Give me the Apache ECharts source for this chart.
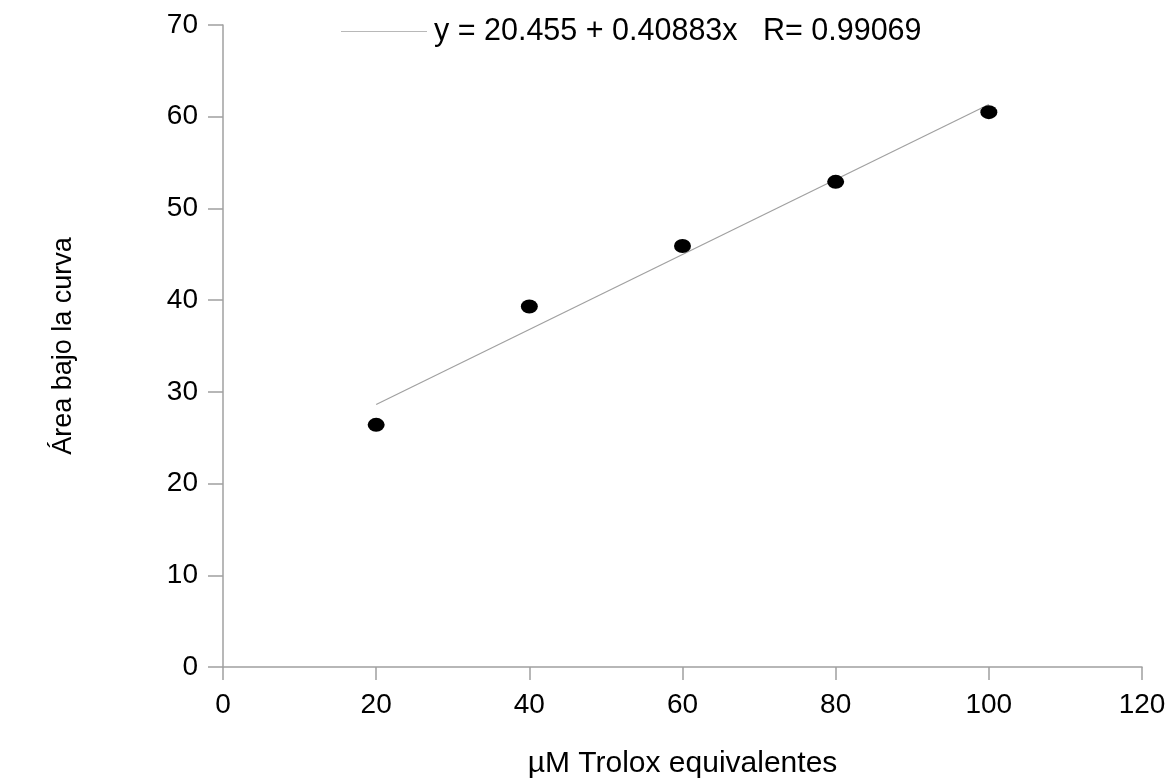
<!DOCTYPE html>
<html>
<head>
<meta charset="utf-8">
<script src="https://cdn.jsdelivr.net/npm/echarts@6/dist/echarts.min.js"></script>
<style>html,body{margin:0;padding:0;background:#fff}#c{width:1173px;height:783px}</style>
</head>
<body>
<div id="c"></div>
<script>
// Measured points
var xValues = [20, 40, 60, 80, 100];
var yValues = [26.4, 39.3, 45.9, 52.9, 60.5];
var fitX = [20, 100];
var fitY = [28.63, 61.34];
var fitLabel = 'y = 20.455 + 0.40883x   R= 0.99069';
var xTicks = [0, 20, 40, 60, 80, 100, 120];
var yTicks = [0, 10, 20, 30, 40, 50, 60, 70];

var pts = xValues.map(function (x, i) { return [x, yValues[i]]; });
var fit = fitX.map(function (x, i) { return [x, fitY[i]]; });
var font = 'Liberation Sans, Arial, sans-serif';
var axisColor = '#a0a0a0';

var chart = echarts.init(document.getElementById('c'), null, {renderer: 'canvas'});
chart.setOption({
  animation: false,
  backgroundColor: '#fff',
  grid: {left: 223, right: 31, top: 25, bottom: 116, containLabel: false, outerBoundsMode: 'none'},
  legend: {
    data: [{name: fitLabel, icon: 'path://M0,0L100,0L100,1L0,1Z'}],
    top: 11, left: 336,
    itemWidth: 86, itemHeight: 2, itemGap: 10,
    textStyle: {fontFamily: font, fontSize: 30.5, color: '#000', padding: [0, 0, 0, 2]},
    itemStyle: {color: '#b8b8b8'}
  },
  xAxis: {
    type: 'value', min: 0, max: 120, interval: 20,
    name: 'µM Trolox equivalentes', nameLocation: 'middle', nameGap: 82,
    nameTextStyle: {fontFamily: font, fontSize: 30, color: '#000'},
    axisLine: {show: true, lineStyle: {color: axisColor, width: 1.5}},
    axisTick: {show: true, length: 13, lineStyle: {color: axisColor, width: 1.5}},
    axisLabel: {fontFamily: font, fontSize: 28, color: '#000', margin: 24},
    splitLine: {show: false}
  },
  yAxis: {
    type: 'value', min: 0, max: 70, interval: 10,
    name: 'Área bajo la curva', nameLocation: 'middle', nameGap: 146, nameRotate: 90,
    nameTextStyle: {fontFamily: font, fontSize: 27, color: '#000'},
    axisLine: {show: true, lineStyle: {color: axisColor, width: 1.5}},
    axisTick: {show: true, length: 15, lineStyle: {color: axisColor, width: 1.5}},
    axisLabel: {fontFamily: font, fontSize: 28, color: '#000', margin: 25},
    splitLine: {show: false}
  },
  series: [
    {
      name: 'data', type: 'scatter', data: pts,
      symbol: 'circle', symbolSize: [17, 14],
      itemStyle: {color: '#000', opacity: 1}, z: 3
    },
    {
      name: fitLabel, type: 'line', data: fit,
      showSymbol: false, symbol: 'none',
      lineStyle: {color: '#a0a0a0', width: 1.2},
      itemStyle: {color: '#b8b8b8'}, z: 2
    }
  ]
});
</script>
</body>
</html>
